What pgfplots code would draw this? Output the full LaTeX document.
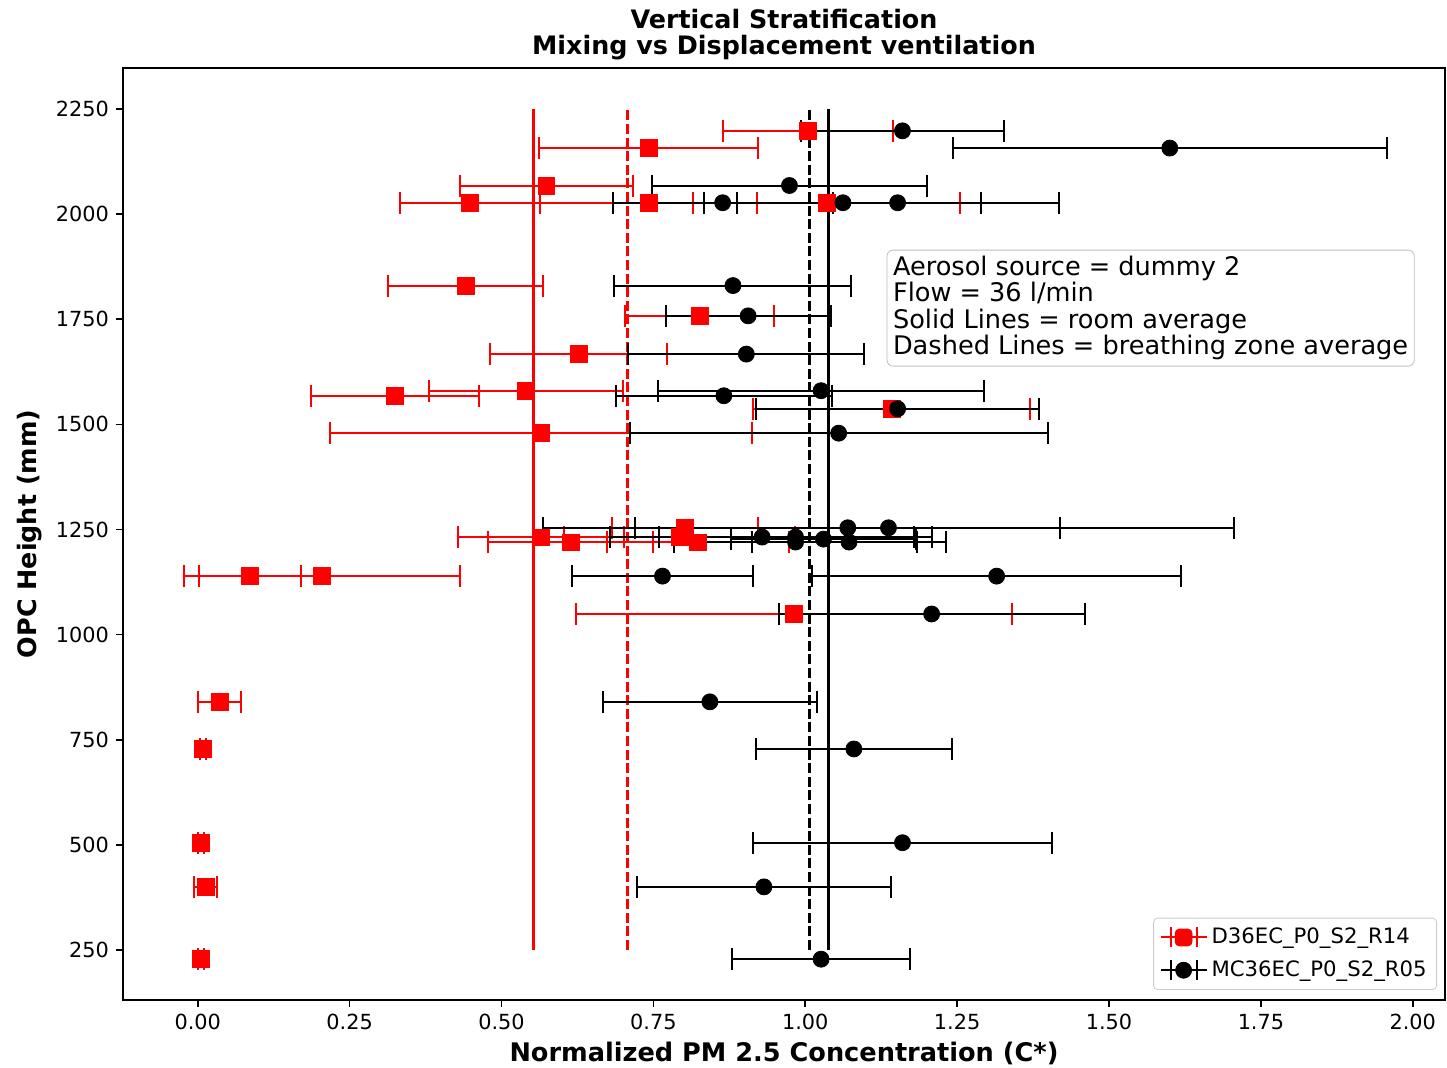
\documentclass[border=0pt]{standalone}
\usepackage{fontspec}
\setmainfont{DejaVu Sans}
\usepackage{pgfplots}
\pgfplotsset{compat=1.18}
\usepackage{pgfplotstable}

% D36EC_P0_S2_R14 (displacement)
\pgfplotstableread{
x     y     ex
1.004 2198  0.140
0.742 2157  0.180
0.574 2068  0.143
0.448 2027  0.115
0.742 2027  0.178
1.035 2027  0.220
0.441 1830  0.128
0.826 1758  0.122
0.627 1667  0.146
0.540 1580  0.160
0.325 1568  0.138
1.142 1537  0.228
0.565 1479  0.347
0.802 1254  0.120
0.565 1231  0.136
0.793 1232  0.190
0.614 1219  0.136
0.823 1219  0.150
0.086 1139  0.084
0.204 1139  0.227
0.981 1049  0.359
0.036 840   0.036
0.009 728   0.005
0.005 505   0.005
0.013 400   0.019
0.005 228   0.005
}\reddata

% MC36EC_P0_S2_R05 (mixing)
\pgfplotstableread{
x     y     ex
1.160 2198  0.167
1.600 2157  0.357
0.974 2068  0.226
0.864 2027  0.181
1.062 2027  0.228
1.152 2027  0.265
0.881 1830  0.195
0.906 1758  0.136
0.903 1667  0.194
1.026 1580  0.268
0.866 1568  0.178
1.152 1537  0.233
1.055 1479  0.344
1.070 1254  0.350
1.137 1254  0.569
0.929 1232  0.250
0.984 1232  0.224
0.984 1220  0.200
1.030 1227  0.153
1.072 1220  0.159
0.765 1139  0.149
1.315 1139  0.304
1.208 1049  0.252
0.843 840   0.176
1.080 728   0.161
1.160 505   0.246
0.932 400   0.209
1.026 228   0.147
}\blackdata

\begin{document}
\begin{tikzpicture}
\path[use as bounding box] (-61.5pt,-34pt) rectangle (662pt,500pt);
\begin{axis}[
    at={(0,0)}, anchor=south west,
    width=661pt, height=466pt, scale only axis,
    xmin=-0.123, xmax=2.053,
    ymin=131, ymax=2347.5,
    xtick={0,0.25,0.5,0.75,1,1.25,1.5,1.75,2},
    ytick={250,500,750,1000,1250,1500,1750,2000,2250},
    xtick pos=bottom, ytick pos=left,
    xticklabel style={/pgf/number format/.cd, fixed, fixed zerofill, precision=2},
    yticklabel style={/pgf/number format/1000 sep={}},
    /pgf/number format/assume math mode=true,
    ticklabel style={font=\fontsize{10.4}{12}\selectfont},
    tick align=outside, major tick length=3.5pt,
    tick style={black, line width=0.8pt},
    axis line style={line width=0.9pt},
    title={Vertical Stratification\\Mixing vs Displacement ventilation},
    title style={font=\fontsize{12.7}{13}\selectfont\bfseries, align=center,
        at={(axis description cs:0.5,1.0230)}, anchor=center},
    xlabel={Normalized PM 2.5 Concentration (C*)},
    ylabel={OPC Height (mm)},
    every axis x label/.style={at={(axis description cs:0.5,-0.0569)}, anchor=center,
        font=\fontsize{12.8}{14}\selectfont\bfseries},
    every axis y label/.style={at={(axis description cs:-0.0703,0.5)}, rotate=90, anchor=center,
        font=\fontsize{12.7}{14}\selectfont\bfseries},
    legend cell align=left,
    legend style={at={(1,0)}, anchor=south east, xshift=-4pt, yshift=5pt,
        draw=gray!40, rounded corners=2pt, font=\fontsize{10.6}{12}\selectfont,
        row sep=3pt, inner sep=3pt},
]

% averages: solid = room average, dashed = breathing zone average
\addplot[red, line width=1.3pt, forget plot] coordinates {(0.553,250) (0.553,2250)};
\addplot[red, line width=1.5pt, dash pattern=on 5pt off 1.8pt, forget plot] coordinates {(0.708,250) (0.708,2250)};
\addplot[black, line width=1.3pt, dash pattern=on 5pt off 1.8pt, forget plot] coordinates {(1.007,250) (1.007,2250)};
\addplot[black, line width=1.3pt, forget plot] coordinates {(1.038,250) (1.038,2250)};

\addplot[red, only marks, mark=square*, mark size=4.2pt, forget plot,
    error bars/.cd, x dir=both, x explicit, error mark=|,
    error bar style={red, line width=1pt},
    error mark options={red, line width=1pt, mark size=5.5pt}]
    table[x=x, y=y, x error=ex] {\reddata};

\addplot[black, only marks, mark=*, mark size=4pt, forget plot,
    error bars/.cd, x dir=both, x explicit, error mark=|,
    error bar style={black, line width=1pt},
    error mark options={black, line width=1pt, mark size=5.5pt}]
    table[x=x, y=y, x error=ex] {\blackdata};

\addlegendimage{legend image code/.code={
    \draw[red, line width=1pt] (0pt,0pt) -- (23pt,0pt) (5pt,-5pt) -- (5pt,5pt) (18pt,-5pt) -- (18pt,5pt);
    \fill[red] (7.3pt,-4.2pt) rectangle (15.7pt,4.2pt);}}
\addlegendentry{D36EC\_P0\_S2\_R14}
\addlegendimage{legend image code/.code={
    \draw[black, line width=1pt] (0pt,0pt) -- (23pt,0pt) (5pt,-5pt) -- (5pt,5pt) (18pt,-5pt) -- (18pt,5pt);
    \fill[black] (11.5pt,0pt) circle (4pt);}}
\addlegendentry{MC36EC\_P0\_S2\_R05}

\node[draw=gray!50, rounded corners=3pt, fill=white, align=left, anchor=north east,
    font=\fontsize{12.8}{13.2}\selectfont, inner sep=3pt]
    at (rel axis cs:0.977,0.805)
    {Aerosol source = dummy 2\\Flow = 36 l/min\\Solid Lines = room average\\Dashed Lines = breathing zone average};
\end{axis}
\end{tikzpicture}
\end{document}
